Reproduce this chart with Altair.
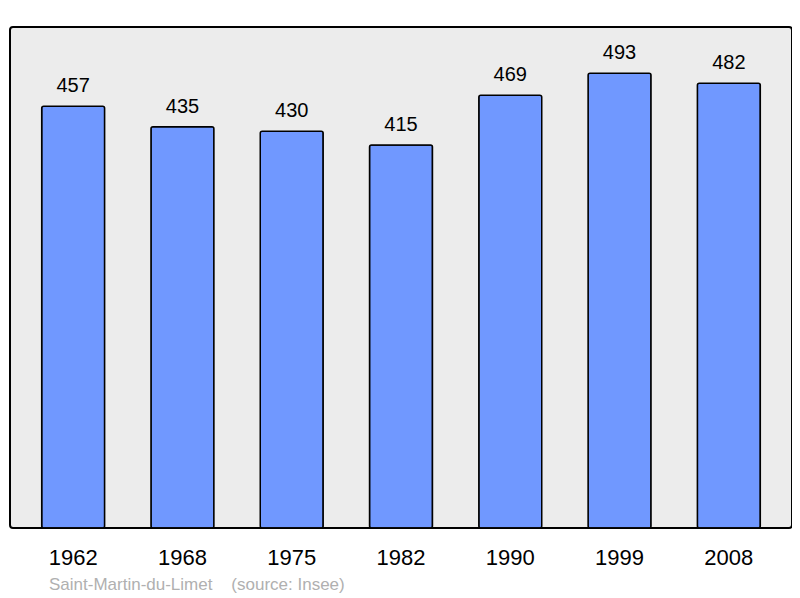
import altair as alt
import pandas as pd

years = ["1962", "1968", "1975", "1982", "1990", "1999", "2008"]
population = [457, 435, 430, 415, 469, 493, 482]

df = pd.DataFrame({"year": years, "pop": population})

x = alt.X("year:N", sort=years,
          scale=alt.Scale(paddingInner=0.424, paddingOuter=0.29),
          axis=alt.Axis(title=None, labelAngle=0, ticks=False, tickSize=0, domain=False,
                        labelFontSize=22, labelFont="Liberation Sans", labelColor="#000000",
                        labelBaseline="alphabetic", labelPadding=36))
y = alt.Y("pop:Q", scale=alt.Scale(domain=[0, 543], nice=False, zero=True), axis=None)

bars = alt.Chart(df).mark_bar(color="#7098ff", stroke="#000000", strokeWidth=1.5,
                              cornerRadius=2).encode(x=x, y=y)

labels = alt.Chart(df).mark_text(dy=-14, baseline="alphabetic", fontSize=20,
                                 font="Liberation Sans", color="#000000").encode(
    x=alt.X("year:N", sort=years), y="pop:Q", text="pop:Q")

chart = alt.layer(bars, labels).properties(
    width=782, height=501,
    autosize=alt.AutoSizeParams(type="none"),
    padding={"left": 2, "top": 19, "right": 0, "bottom": 70},
    title=alt.TitleParams(
        text="Saint-Martin-du-Limet\u00a0\u00a0\u00a0\u00a0(source: Insee)",
        orient="bottom", anchor="start", fontSize=17, font="Liberation Sans",
        fontWeight="normal", color="#b0b0b0", dx=39, offset=22, baseline="alphabetic"),
).configure_view(
    fill="#ececec", stroke="#000000", strokeWidth=2, cornerRadius=3
).configure_title(frame="group")

chart.save("out.html", embed_options={"renderer": "svg", "actions": False})
